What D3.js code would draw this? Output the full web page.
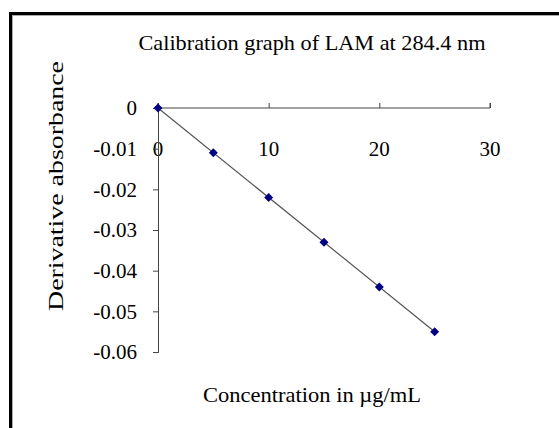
<!DOCTYPE html>
<html><head><meta charset="utf-8">
<script src="https://cdn.jsdelivr.net/npm/d3@7"></script>
<style>body{margin:0;background:#fff}svg{display:block}text{font-family:"Liberation Serif","Times New Roman",serif;fill:#000}</style>
</head><body>
<svg id="c" width="559" height="428"></svg>
<script>
const concentration = [0, 5, 10, 15, 20, 25];
const absorbance = [0, -0.011, -0.022, -0.033, -0.044, -0.055];
const xTicks = [0, 10, 20, 30];
const yTicks = [0, -0.01, -0.02, -0.03, -0.04, -0.05, -0.06];
const yTickLabels = ["0", "-0.01", "-0.02", "-0.03", "-0.04", "-0.05", "-0.06"];
const title = "Calibration graph of LAM at 284.4 nm";
const xTitle = "Concentration in \u00b5g/mL";
const yTitle = "Derivative absorbance";

const svg = d3.select("#c");
// frame
svg.append("rect").attr("x",10.5).attr("y",13.5).attr("width",600).attr("height",500)
  .attr("fill","none").attr("stroke","#000").attr("stroke-width",3);
svg.append("rect").attr("x",12.5).attr("y",15.5).attr("width",600).attr("height",500)
  .attr("fill","none").attr("stroke","#aaa").attr("stroke-width",1);

const x = d3.scaleLinear().domain([0,30]).range([158,490]);
const y = d3.scaleLinear().domain([-0.06,0]).range([352,108]);

// x axis at y=0, ticks upward
const xAxis = d3.axisTop(x).tickValues(xTicks).tickSize(5).tickFormat("");
const gx = svg.append("g").attr("transform",`translate(0,${y(0)})`).call(xAxis);
gx.select(".domain").attr("stroke","#444").attr("d",`M${x(0)},-5V0H${x(30)}V-5`);
gx.selectAll(".tick line").attr("stroke","#444");
svg.append("g").selectAll("text").data(xTicks).join("text")
  .attr("x",d=>x(d)).attr("y",156).attr("text-anchor","middle")
  .style("font-size","21px").text(d=>d);

// y axis
const yAxis = d3.axisLeft(y).tickValues(yTicks).tickSize(5).tickPadding(16)
  .tickFormat((d,i)=>yTickLabels[i]);
const gy = svg.append("g").attr("transform",`translate(${x(0)},0)`).call(yAxis);
gy.select(".domain").attr("stroke","#444");
gy.selectAll(".tick line").attr("stroke","#444");
gy.selectAll(".tick text").style("font-size","21px").style("font-family","Liberation Serif").attr("fill","#000");

// trend line
svg.append("line").attr("x1",x(concentration[0])).attr("y1",y(absorbance[0]))
  .attr("x2",x(concentration[concentration.length-1])).attr("y2",y(absorbance[absorbance.length-1]))
  .attr("stroke","#555").attr("stroke-width",1.2);

// markers
svg.append("g").selectAll("path").data(concentration).join("path")
  .attr("d",d3.symbol(d3.symbolSquare,40))
  .attr("transform",(d,i)=>`translate(${x(d)},${y(absorbance[i])}) rotate(45)`)
  .attr("fill","#000080");

// titles
svg.append("text").attr("x",312).attr("y",50).attr("text-anchor","middle")
  .attr("textLength",347).attr("lengthAdjust","spacingAndGlyphs")
  .style("font-size","21px").text(title);
svg.append("text").attr("x",312).attr("y",402).attr("text-anchor","middle")
  .attr("textLength",218).attr("lengthAdjust","spacingAndGlyphs")
  .style("font-size","21px").text(xTitle);
svg.append("text").attr("transform","translate(63,186) rotate(-90)").attr("text-anchor","middle")
  .attr("textLength",250).attr("lengthAdjust","spacingAndGlyphs")
  .style("font-size","22px").text(yTitle);
</script>
</body></html>
